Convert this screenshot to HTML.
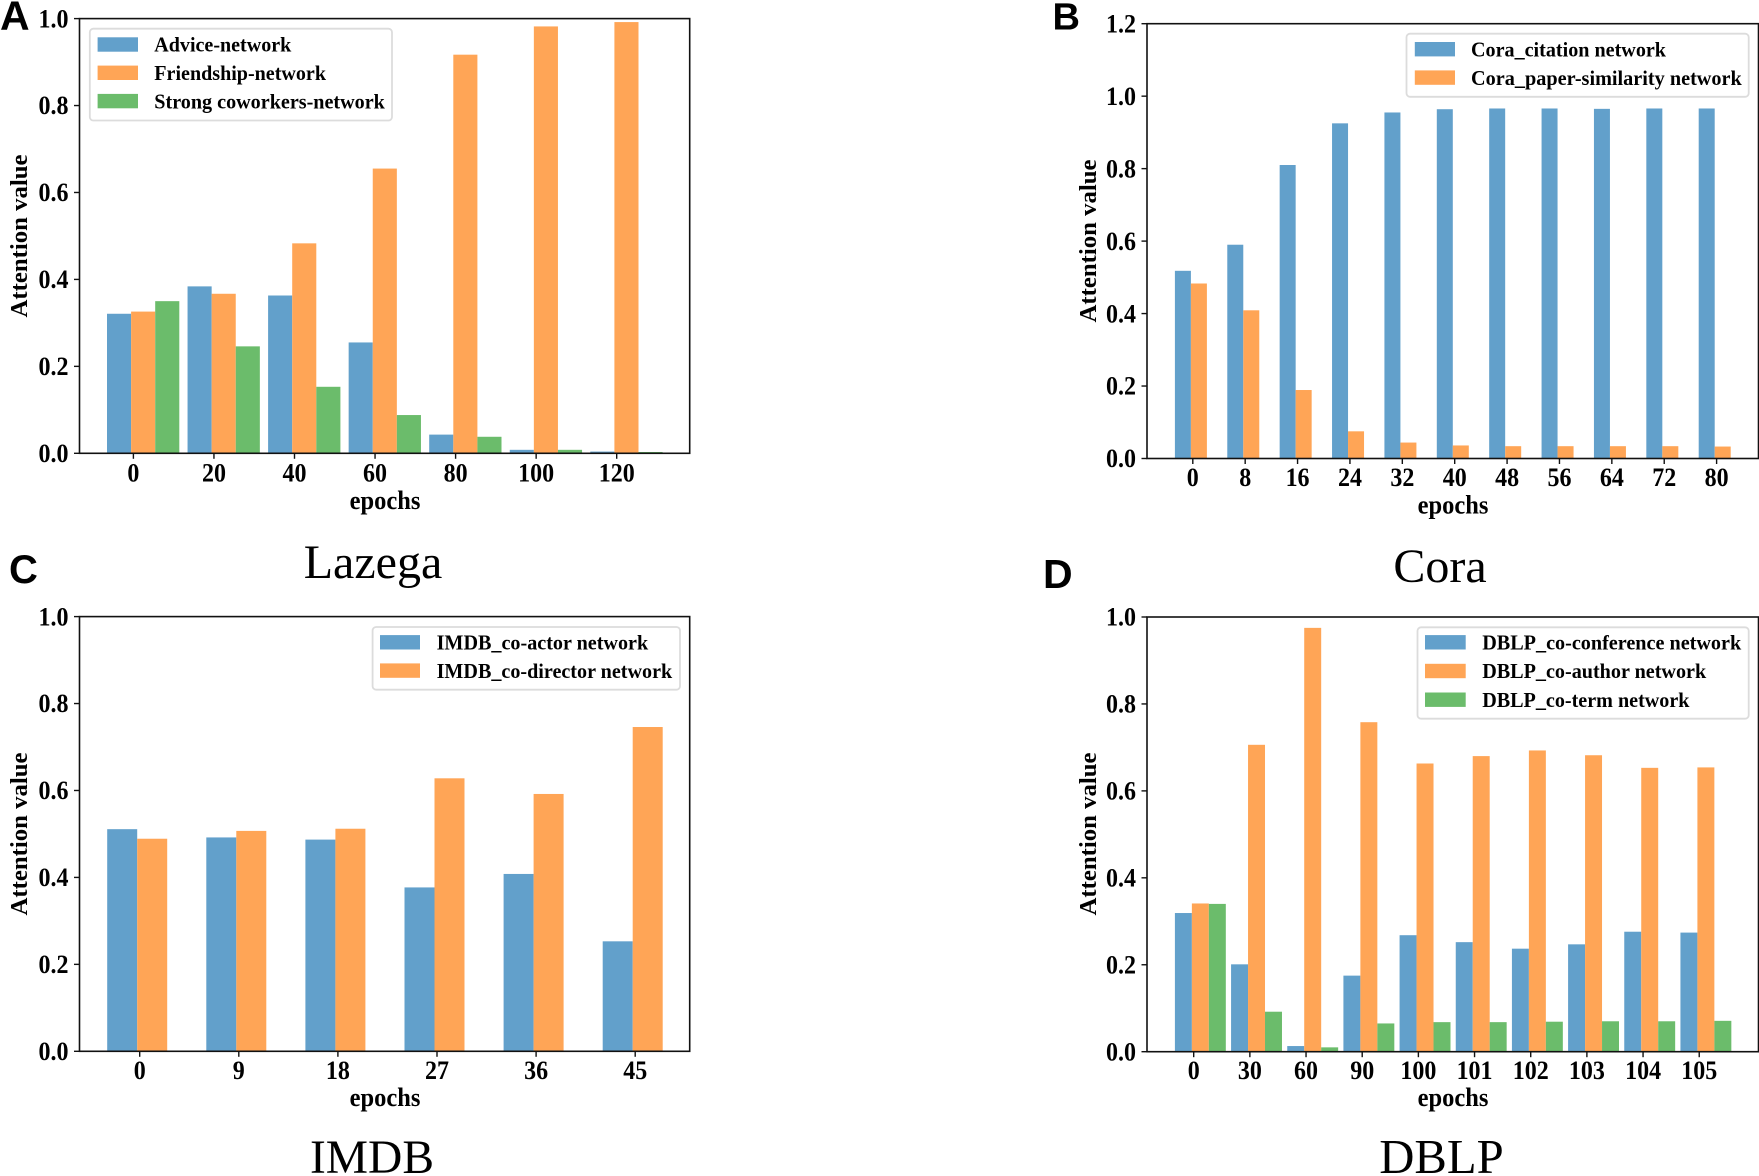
<!DOCTYPE html>
<html lang="en">
<head>
<meta charset="utf-8">
<title>Attention values per epoch</title>
<style>
html,body{margin:0;padding:0;background:#fff;width:1759px;height:1176px;overflow:hidden}
svg{display:block}
text{font-family:"Liberation Serif","Times New Roman",serif;fill:#000}
.bold{font-weight:bold}
.letter{font-family:"Liberation Sans",Arial,sans-serif;font-weight:bold;fill:#000}
</style>
</head>
<body>
<svg id="figure" xmlns="http://www.w3.org/2000/svg" width="1759" height="1176" viewBox="0 0 1759 1176">
  <rect x="0" y="0" width="1759" height="1176" fill="#fff"/>
  <text class="letter" x="0" y="29.7" font-size="41">A</text>
  <text class="letter" x="1052.5" y="29.3" font-size="38">B</text>
  <text class="letter" x="9" y="583" font-size="40">C</text>
  <text class="letter" x="1043" y="588" font-size="41">D</text>
  <text x="373" y="578" font-size="48" text-anchor="middle">Lazega</text>
  <text x="1440" y="582" font-size="48" text-anchor="middle">Cora</text>
  <text x="372" y="1173" font-size="47.5" text-anchor="middle">IMDB</text>
  <text x="1441.5" y="1173" font-size="48.7" text-anchor="middle">DBLP</text>
</svg>
<script>
// ---- Chart data ----
const lazegaEpochs = ['0','20','40','60','80','100','120'];
const lazegaAdvice = [0.321,0.384,0.363,0.255,0.043,0.008,0.004];
const lazegaFriendship = [0.326,0.367,0.483,0.655,0.917,0.982,0.992];
const lazegaCoworkers = [0.350,0.246,0.153,0.088,0.038,0.008,0.003];
const lazegaLabels = ['Advice-network','Friendship-network','Strong coworkers-network'];

const coraEpochs = ['0','8','16','24','32','40','48','56','64','72','80'];
const coraCitation = [0.518,0.590,0.810,0.925,0.955,0.964,0.966,0.966,0.965,0.966,0.966];
const coraSimilarity = [0.483,0.409,0.189,0.075,0.044,0.036,0.034,0.034,0.034,0.034,0.033];
const coraLabels = ['Cora_citation network','Cora_paper-similarity network'];

const imdbEpochs = ['0','9','18','27','36','45'];
const imdbActor = [0.511,0.492,0.487,0.377,0.408,0.253];
const imdbDirector = [0.489,0.507,0.512,0.628,0.592,0.746];
const imdbLabels = ['IMDB_co-actor network','IMDB_co-director network'];

const dblpEpochs = ['0','30','60','90','100','101','102','103','104','105'];
const dblpConference = [0.319,0.201,0.013,0.175,0.268,0.252,0.237,0.247,0.276,0.274];
const dblpAuthor = [0.341,0.706,0.975,0.758,0.663,0.680,0.693,0.682,0.653,0.654];
const dblpTerm = [0.340,0.092,0.010,0.065,0.068,0.068,0.069,0.070,0.070,0.071];
const dblpLabels = ['DBLP_co-conference network','DBLP_co-author network','DBLP_co-term network'];

const yTicksToOne = ['0.0','0.2','0.4','0.6','0.8','1.0'];
const yTicksToOnePointTwo = ['0.0','0.2','0.4','0.6','0.8','1.0','1.2'];

const seriesColors = ['#62a0cb','#ffa556','#6bbc6b'];

// ---- Layout of each panel ----
const SVG_NS = 'http://www.w3.org/2000/svg';
const figure = document.getElementById('figure');
const textStretch = 1.09;

function make(tag, attrs, parent) {
  const node = document.createElementNS(SVG_NS, tag);
  Object.keys(attrs).forEach(function (k) { node.setAttribute(k, attrs[k]); });
  (parent || figure).appendChild(node);
  return node;
}

function stretchAt(x, y) {
  return 'translate(' + x + ',' + y + ') scale(1,' + textStretch + ')';
}

function drawPanel(p) {
  const group = make('g', {});
  
  

  const yMax = parseFloat(p.yTicks[p.yTicks.length - 1]);
  const xScale = function (i) { return p.tick0 + i * p.tickStep; };
  const yScale = function (v) { return p.bottom - (v / yMax) * (p.bottom - p.top); };
  const barWidth = p.barWidth;

  // bars
  p.series.forEach(function (values, s) {
    values.forEach(function (v, i) {
      const bar = make('rect', {
        x: xScale(i) + p.barOffset + s * barWidth,
        y: yScale(v),
        width: barWidth,
        height: p.bottom - yScale(v),
        fill: seriesColors[s]
      }, group);
      
      
    });
  });

  // axes frame
  const frame = make('rect', {
    x: p.left, y: p.top, width: p.right - p.left, height: p.bottom - p.top,
    fill: 'none', stroke: '#111', 'stroke-width': 1.6
  }, group);
  
  

  // x ticks
  p.categories.forEach(function (label, i) {
    const mark = make('line', {
      x1: xScale(i), x2: xScale(i), y1: p.bottom, y2: p.bottom + 5.5,
      stroke: '#111', 'stroke-width': 1.4
    }, group);
    
    
    const t = make('text', {
      transform: stretchAt(xScale(i), p.xTickBase), 'font-size': 24, 'text-anchor': 'middle', 'class': 'bold'
    }, group);
    t.textContent = label;
    
    
  });

  // y ticks
  p.yTicks.forEach(function (label) {
    const v = parseFloat(label);
    const mark = make('line', {
      x1: p.left - 5.5, x2: p.left, y1: yScale(v), y2: yScale(v),
      stroke: '#111', 'stroke-width': 1.4
    }, group);
    
    
    const t = make('text', {
      transform: stretchAt(p.left - 11, yScale(v) + 8.7), 'font-size': 24, 'text-anchor': 'end', 'class': 'bold'
    }, group);
    t.textContent = label;
    
    
  });

  // axis titles
  const xTitle = make('text', {
    transform: stretchAt(p.xTitleX, p.xTitleY), 'font-size': 24.5, 'text-anchor': 'middle', 'class': 'bold'
  }, group);
  xTitle.textContent = 'epochs';
  
  

  const yTitle = make('text', {
    x: 0, y: 0, 'font-size': 24.5, 'text-anchor': 'middle', 'class': 'bold',
    textLength: 163, lengthAdjust: 'spacingAndGlyphs',
    transform: 'translate(' + p.yTitleX + ',' + p.yTitleY + ') rotate(-90)'
  }, group);
  yTitle.textContent = 'Attention value';
  
  

  // legend
  const leg = p.legend;
  const legendGroup = make('g', {}, group);
  
  
  const box = make('rect', {
    x: leg.x, y: leg.y, width: leg.w, height: leg.h, rx: 3.5, ry: 3.5,
    fill: '#fff', 'fill-opacity': 0.9, stroke: '#dcdcdc', 'stroke-width': 1.8
  }, legendGroup);
  
  
  p.labels.forEach(function (label, s) {
    const swatch = make('rect', {
      x: leg.handleX, y: leg.firstBase + s * leg.rowStep - 14.4,
      width: leg.handleW, height: 14.4, fill: seriesColors[s]
    }, legendGroup);
    
    
    const t = make('text', {
      x: leg.textX, y: leg.firstBase + s * leg.rowStep, 'font-size': 21.5, 'class': 'bold',
      textLength: leg.widths[s], lengthAdjust: 'spacingAndGlyphs'
    }, legendGroup);
    t.textContent = label;
    
    
  });
}

drawPanel({
  name: 'lazega', categories: lazegaEpochs, yTicks: yTicksToOne,
  series: [lazegaAdvice, lazegaFriendship, lazegaCoworkers],
  keys: ['advice', 'friendship', 'coworkers'], labels: lazegaLabels,
  left: 79.5, right: 689.7, top: 18.6, bottom: 453.3,
  tick0: 133.4, tickStep: 80.55, barWidth: 24.1, barOffset: -26.4,
  xTickBase: 481.7, xTitleX: 385, xTitleY: 509, yTitleX: 27, yTitleY: 236,
  legend: { x: 89.8, y: 28.7, w: 302.2, h: 91.8, handleX: 97.6, handleW: 40.4, textX: 154.3,
            firstBase: 51.7, rowStep: 28.3, widths: [137, 171.7, 230.6] }
});

drawPanel({
  name: 'cora', categories: coraEpochs, yTicks: yTicksToOnePointTwo,
  series: [coraCitation, coraSimilarity],
  keys: ['citation', 'similarity'], labels: coraLabels,
  left: 1147, right: 1758.5, top: 23.7, bottom: 458.5,
  tick0: 1192.8, tickStep: 52.38, barWidth: 16, barOffset: -17.9,
  xTickBase: 486, xTitleX: 1453, xTitleY: 513.6, yTitleX: 1096, yTitleY: 241,
  legend: { x: 1406.5, y: 33.7, w: 342.2, h: 63.1, handleX: 1414.8, handleW: 40.2, textX: 1471,
            firstBase: 56.4, rowStep: 28.4, widths: [195, 270.8] }
});

drawPanel({
  name: 'imdb', categories: imdbEpochs, yTicks: yTicksToOne,
  series: [imdbActor, imdbDirector],
  keys: ['actor', 'director'], labels: imdbLabels,
  left: 79.5, right: 689.7, top: 616.6, bottom: 1051.3,
  tick0: 139.7, tickStep: 99.1, barWidth: 30, barOffset: -32.5,
  xTickBase: 1079, xTitleX: 385, xTitleY: 1106, yTitleX: 27, yTitleY: 834,
  legend: { x: 372.6, y: 627, w: 307.4, h: 62.7, handleX: 380, handleW: 40, textX: 436.6,
            firstBase: 649.5, rowStep: 28.3, widths: [211.6, 235.6] }
});

drawPanel({
  name: 'dblp', categories: dblpEpochs, yTicks: yTicksToOne,
  series: [dblpConference, dblpAuthor, dblpTerm],
  keys: ['conference', 'author', 'term'], labels: dblpLabels,
  left: 1147, right: 1758.5, top: 617, bottom: 1051.7,
  tick0: 1193.7, tickStep: 56.17, barWidth: 16.97, barOffset: -18.8,
  xTickBase: 1079, xTitleX: 1453, xTitleY: 1106, yTitleX: 1096, yTitleY: 834,
  legend: { x: 1417.5, y: 627.3, w: 331.2, h: 91.4, handleX: 1425, handleW: 40.7, textX: 1482.2,
            firstBase: 649.5, rowStep: 28.7, widths: [259, 224, 207.3] }
});
</script>
</body>
</html>
